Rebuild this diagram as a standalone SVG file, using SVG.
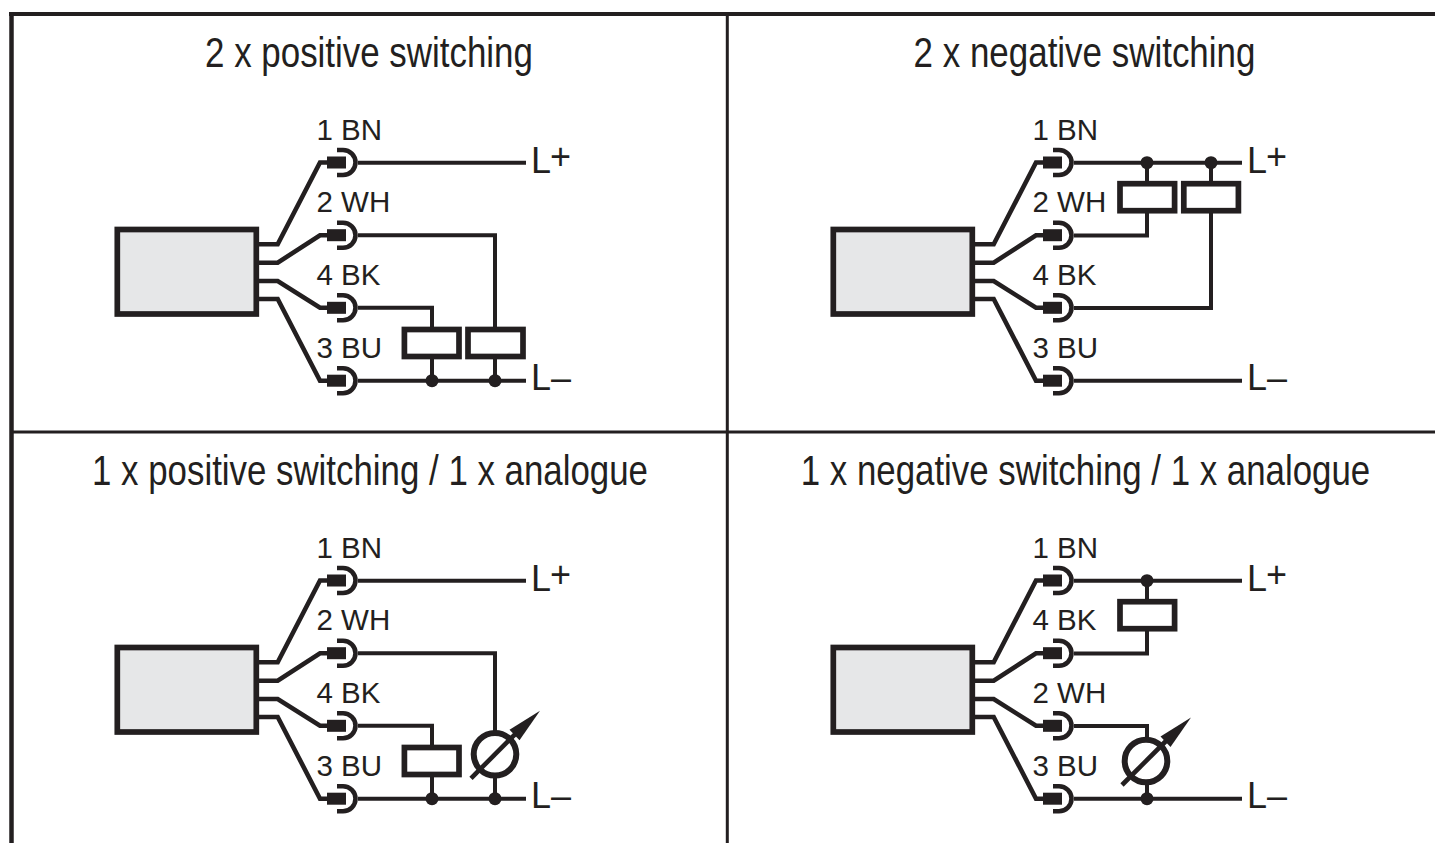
<svg xmlns="http://www.w3.org/2000/svg" xmlns:xlink="http://www.w3.org/1999/xlink" width="1435" height="843" viewBox="0 0 1435 843">
<style>
text{font-family:"Liberation Sans",Arial,sans-serif;fill:#231f20}
.t{font-size:42px;text-anchor:middle}
.l{font-size:29.5px}
.v{font-size:36px}
.w{fill:none;stroke:#231f20;stroke-width:4.6}
.f{fill:none;stroke:#231f20;stroke-width:4}
.r{fill:#fff;stroke:#231f20;stroke-width:5.7}
.b{fill:#e6e7e8;stroke:#231f20;stroke-width:5.7}
.d{fill:#231f20}
</style>
<defs>
<g id="conn"><rect class="d" x="0" y="-6" width="19" height="12"/><path class="w" d="M10-12.5H16A12.5 12.5 0 0 1 16 12.5H10"/></g>
<g id="dev">
<rect class="b" x="117.3" y="229.5" width="139" height="84.5"/>
<path class="w" d="M259 244.3H277.7L320 162.5H327M259 262.7H277.7L320 235.2H327M259 281H277.7L320 307.8H327M259 299H277.7L320 380.7H327"/>
<use xlink:href="#conn" x="327" y="162.5"/>
<use xlink:href="#conn" x="327" y="235.2"/>
<use xlink:href="#conn" x="327" y="307.8"/>
<use xlink:href="#conn" x="327" y="380.7"/>
</g>
<g id="meter">
<circle class="w" style="stroke-width:6" r="21.3"/>
<path class="w" d="M-24 24L21-21"/>
<path class="d" d="M45-43.5L14.5-24.5L24.5-14Z"/>
</g>
</defs>
<g id="frame" fill="none" stroke="#231f20">
<path stroke-width="4" d="M9 14H1435"/>
<path stroke-width="4.5" d="M11.5 12V843"/>
<path stroke-width="3" d="M727.3 14V843M11 432H1435"/>
</g>
<g id="panel-1">
<text class="t" transform="translate(369 67) scale(.831 1)">2 x positive switching</text>
<g id="device-1"><use xlink:href="#dev"/></g>
<g class="labels">
<text class="l" x="316.5" y="140">1 BN</text><text class="l" x="316.5" y="212">2 WH</text><text class="l" x="316.5" y="285">4 BK</text><text class="l" x="316.5" y="358">3 BU</text>
<text class="v" x="531" y="172.5">L</text><text class="v" x="550" y="168.5">+</text><text class="v" x="531" y="390">L–</text>
</g>
<g id="connectors-1">
<path class="f" d="M358 162.7H526M358 235.2H495V327M358 307.8H432V327M358 380.7H526M432 359V380M495 359V380"/>
</g>
<g id="relay-1a"><rect class="r" x="404.4" y="329.5" width="54.6" height="27"/></g>
<g id="relay-1b"><rect class="r" x="468" y="329.5" width="55" height="27"/></g>
<circle class="d" cx="432" cy="380.7" r="6.5"/><circle class="d" cx="495" cy="380.7" r="6.5"/>
</g>
<g id="panel-2">
<text class="t" transform="translate(1084.5 67) scale(.832 1)">2 x negative switching</text>
<g id="device-2"><use xlink:href="#dev" x="716"/></g>
<text class="l" x="1032.5" y="140">1 BN</text><text class="l" x="1032.5" y="212">2 WH</text><text class="l" x="1032.5" y="285">4 BK</text><text class="l" x="1032.5" y="358">3 BU</text>
<text class="v" x="1247" y="172.5">L</text><text class="v" x="1266" y="168.5">+</text><text class="v" x="1247" y="390">L–</text>
<g id="connectors-2">
<path class="f" d="M1074 162.7H1242M1074 235.6H1147V213M1074 308H1211V213M1074 380.7H1242M1147 163V183M1211 163V183"/>
</g>
<g id="relay-2a"><rect class="r" x="1120" y="183.7" width="54.6" height="27"/></g>
<g id="relay-2b"><rect class="r" x="1183.8" y="183.7" width="54.6" height="27"/></g>
<circle class="d" cx="1147" cy="162.7" r="6.5"/><circle class="d" cx="1211" cy="162.7" r="6.5"/>
</g>
<g id="panel-3">
<text class="t" transform="translate(370 485) scale(.83 1)">1 x positive switching / 1 x analogue</text>
<g id="device-3"><use xlink:href="#dev" y="418"/></g>
<text class="l" x="316.5" y="558">1 BN</text><text class="l" x="316.5" y="630">2 WH</text><text class="l" x="316.5" y="703">4 BK</text><text class="l" x="316.5" y="776">3 BU</text>
<text class="v" x="531" y="590.5">L</text><text class="v" x="550" y="586.5">+</text><text class="v" x="531" y="808">L–</text>
<g id="connectors-3">
<path class="f" d="M358 580.7H526M358 653.2H495V733M358 725.8H432V745M358 798.7H526M432 777V798M495 776V798"/>
</g>
<g id="relay-3"><rect class="r" x="404.4" y="747.5" width="54.6" height="27"/></g>
<g id="meter-3"><use xlink:href="#meter" x="495" y="754.3"/></g>
<circle class="d" cx="432" cy="798.7" r="6.5"/><circle class="d" cx="495" cy="798.7" r="6.5"/>
</g>
<g id="panel-4">
<text class="t" transform="translate(1085.5 485) scale(.83 1)">1 x negative switching / 1 x analogue</text>
<g id="device-4"><use xlink:href="#dev" x="716" y="418"/></g>
<text class="l" x="1032.5" y="558">1 BN</text><text class="l" x="1032.5" y="630">4 BK</text><text class="l" x="1032.5" y="703">2 WH</text><text class="l" x="1032.5" y="776">3 BU</text>
<text class="v" x="1247" y="590.5">L</text><text class="v" x="1266" y="586.5">+</text><text class="v" x="1247" y="808">L–</text>
<g id="connectors-4">
<path class="f" d="M1074 580.7H1242M1074 653.6H1147V631M1074 726H1147V740M1074 798.7H1242M1147 581V601M1147 783V798"/>
</g>
<g id="relay-4"><rect class="r" x="1120" y="601.7" width="54.6" height="27"/></g>
<g id="meter-4"><use xlink:href="#meter" x="1146" y="761"/></g>
<circle class="d" cx="1147" cy="580.7" r="6.5"/><circle class="d" cx="1147" cy="798.7" r="6.5"/>
</g>
</svg>
